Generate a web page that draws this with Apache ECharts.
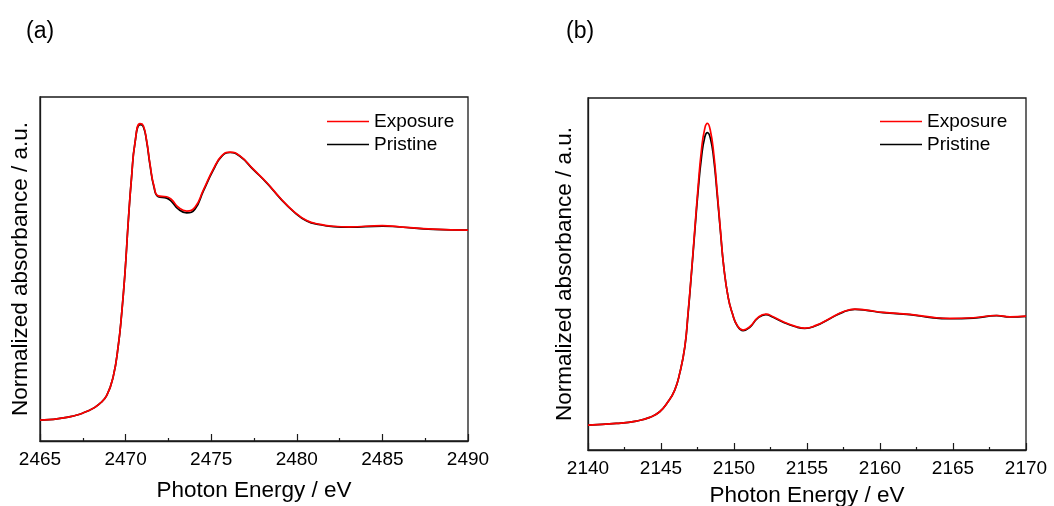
<!DOCTYPE html>
<html>
<head>
<meta charset="utf-8">
<title>XANES spectra</title>
<style>
html, body { margin: 0; padding: 0; background: #fff; }
#main { width: 1054px; height: 506px; }
</style>
</head>
<body>
<div id="main"></div>
<script src="https://cdn.jsdelivr.net/npm/echarts@6/dist/echarts.min.js"></script>
<script>
// panel (a): energy / eV and normalized absorbance
var energyA = [2465, 2466.56, 2467.92, 2468.5, 2468.9, 2469.28, 2469.57, 2469.77, 2469.96, 2470.16,
	2470.35, 2470.55, 2470.84, 2471.03, 2471.23, 2471.42, 2471.66, 2471.91, 2472.4, 2472.69,
	2473.08, 2473.57, 2474.05, 2474.54, 2475.12, 2475.61, 2476.1, 2476.68, 2477.46, 2478.24,
	2479.02, 2479.8, 2480.58, 2481.36, 2482.13, 2483.05, 2485.0, 2486.0, 2487.97, 2490];
var exposureA = [0, 0.014, 0.053, 0.088, 0.13, 0.23, 0.39, 0.56, 0.77, 1.05,
	1.28, 1.46, 1.56, 1.55, 1.47, 1.35, 1.23, 1.18, 1.175, 1.16,
	1.12, 1.10, 1.12, 1.21, 1.32, 1.39, 1.41, 1.39, 1.32, 1.25,
	1.17, 1.10, 1.05, 1.03, 1.02, 1.017, 1.023, 1.017, 1.005, 1.0];
var pristineA = [0, 0.014, 0.053, 0.088, 0.13, 0.23, 0.39, 0.56, 0.77, 1.05,
	1.28, 1.46, 1.555, 1.545, 1.465, 1.345, 1.225, 1.175, 1.168, 1.15,
	1.11, 1.09, 1.11, 1.205, 1.315, 1.388, 1.408, 1.388, 1.318, 1.248,
	1.168, 1.098, 1.048, 1.028, 1.018, 1.015, 1.021, 1.016, 1.004, 1.0];

// panel (b)
var energyB = [2140, 2141.94, 2143.31, 2144.23, 2144.91, 2145.48, 2145.94, 2146.28, 2146.63, 2146.85,
	2147.08, 2147.31, 2147.54, 2147.77, 2148.0, 2148.18, 2148.38, 2148.61, 2148.84, 2149.07,
	2149.3, 2149.6, 2149.89, 2150.21, 2150.62, 2151.08, 2151.65, 2152.18, 2152.68, 2153.37,
	2154.16, 2154.85, 2155.65, 2156.56, 2157.48, 2158.28, 2159.08, 2160.22, 2162.05, 2163.65,
	2164.79, 2166.39, 2167.99, 2168.9, 2170];
var exposureB = [0, 0.015, 0.037, 0.071, 0.123, 0.215, 0.323, 0.477, 0.723, 1.03,
	1.40, 1.80, 2.20, 2.54, 2.74, 2.785, 2.72, 2.51, 2.17, 1.80,
	1.46, 1.18, 1.03, 0.923, 0.877, 0.908, 0.994, 1.025, 1.0, 0.954,
	0.914, 0.895, 0.923, 0.985, 1.046, 1.071, 1.062, 1.04, 1.022, 0.994,
	0.985, 0.991, 1.012, 1.0, 1.006];
var pristineB = [0, 0.015, 0.037, 0.071, 0.123, 0.215, 0.323, 0.477, 0.72, 1.02,
	1.39, 1.78, 2.16, 2.47, 2.66, 2.70, 2.65, 2.46, 2.14, 1.79,
	1.46, 1.18, 1.03, 0.92, 0.872, 0.903, 0.99, 1.02, 0.996, 0.95,
	0.91, 0.892, 0.92, 0.982, 1.043, 1.068, 1.06, 1.038, 1.02, 0.99,
	0.982, 0.988, 1.01, 0.998, 1.004];

var seriesNames = ['Exposure', 'Pristine'];
var xNameText = 'Photon Energy / eV';
var yNameText = 'Normalized absorbance / a.u.';

function pairs(xs, ys) {
	var out = [];
	for (var i = 0; i < xs.length; i++) out.push([xs[i], ys[i]]);
	return out;
}

var font = "'Liberation Sans', Arial, sans-serif";
var axisColor = '#1a1a1a';

function xAxisOf(idx, min, max, margin, gap) {
	return {
		type: 'value', gridIndex: idx, min: min, max: max, interval: 5,
		name: xNameText, nameLocation: 'middle', nameGap: gap,
		nameTextStyle: { fontSize: 22.5, color: '#000', fontFamily: font },
		axisLine: { show: true, onZero: false, lineStyle: { color: axisColor, width: 1.3 } },
		axisTick: { show: true, inside: true, length: 7, lineStyle: { color: axisColor, width: 1.2 } },
		minorTick: { show: true, splitNumber: 2, length: 3, lineStyle: { color: axisColor, width: 1.2 } },
		axisLabel: { fontSize: 19, color: '#000', fontFamily: font, margin: margin,
			formatter: function (v) { return String(v); } },
		splitLine: { show: false }
	};
}

function yAxisOf(idx, min, max, gap) {
	return {
		type: 'value', gridIndex: idx, min: min, max: max,
		name: yNameText, nameLocation: 'middle', nameGap: gap,
		nameTextStyle: { fontSize: 22.5, color: '#000', fontFamily: font },
		axisLine: { show: true, onZero: false, lineStyle: { color: axisColor, width: 1.3 } },
		axisTick: { show: false },
		axisLabel: { show: false },
		splitLine: { show: false }
	};
}

function lineOf(name, color, idx, data, z) {
	return {
		name: name, type: 'line', xAxisIndex: idx, yAxisIndex: idx,
		data: data, smooth: 0.5, symbol: 'none', z: z,
		lineStyle: { color: color, width: 1.7 }, itemStyle: { color: color }
	};
}

function legendOf(left) {
	return {
		data: seriesNames, orient: 'vertical', left: left, top: 110, padding: 0, itemGap: 0,
		icon: 'rect', itemWidth: 42, itemHeight: 1.5,
		textStyle: { fontSize: 19, color: '#000', fontFamily: font, lineHeight: 23 }
	};
}

var titleStyle = { fontSize: 23, fontWeight: 'normal', color: '#000', fontFamily: font };

var chart = echarts.init(document.getElementById('main'));
chart.setOption({
	animation: false,
	title: [
		{ text: '(a)', left: 21, top: 15, textStyle: titleStyle },
		{ text: '(b)', left: 561, top: 15, textStyle: titleStyle }
	],
	legend: [legendOf(327), legendOf(880)],
	grid: [
		{ left: 40, top: 97, width: 428, height: 344, show: true, borderColor: axisColor, borderWidth: 1.3,
			containLabel: false, outerBoundsMode: 'none' },
		{ left: 588, top: 98, width: 438, height: 352, show: true, borderColor: axisColor, borderWidth: 1.3,
			containLabel: false, outerBoundsMode: 'none' }
	],
	xAxis: [xAxisOf(0, 2465, 2490, 9, 38), xAxisOf(1, 2140, 2170, 9, 34)],
	yAxis: [yAxisOf(0, -0.11, 1.70, 8), yAxisOf(1, -0.23, 3.02, 12)],
	series: [
		lineOf('Pristine', '#000000', 0, pairs(energyA, pristineA), 2),
		lineOf('Exposure', '#ff0000', 0, pairs(energyA, exposureA), 3),
		lineOf('Pristine', '#000000', 1, pairs(energyB, pristineB), 2),
		lineOf('Exposure', '#ff0000', 1, pairs(energyB, exposureB), 3)
	]
});
</script>
</body>
</html>
